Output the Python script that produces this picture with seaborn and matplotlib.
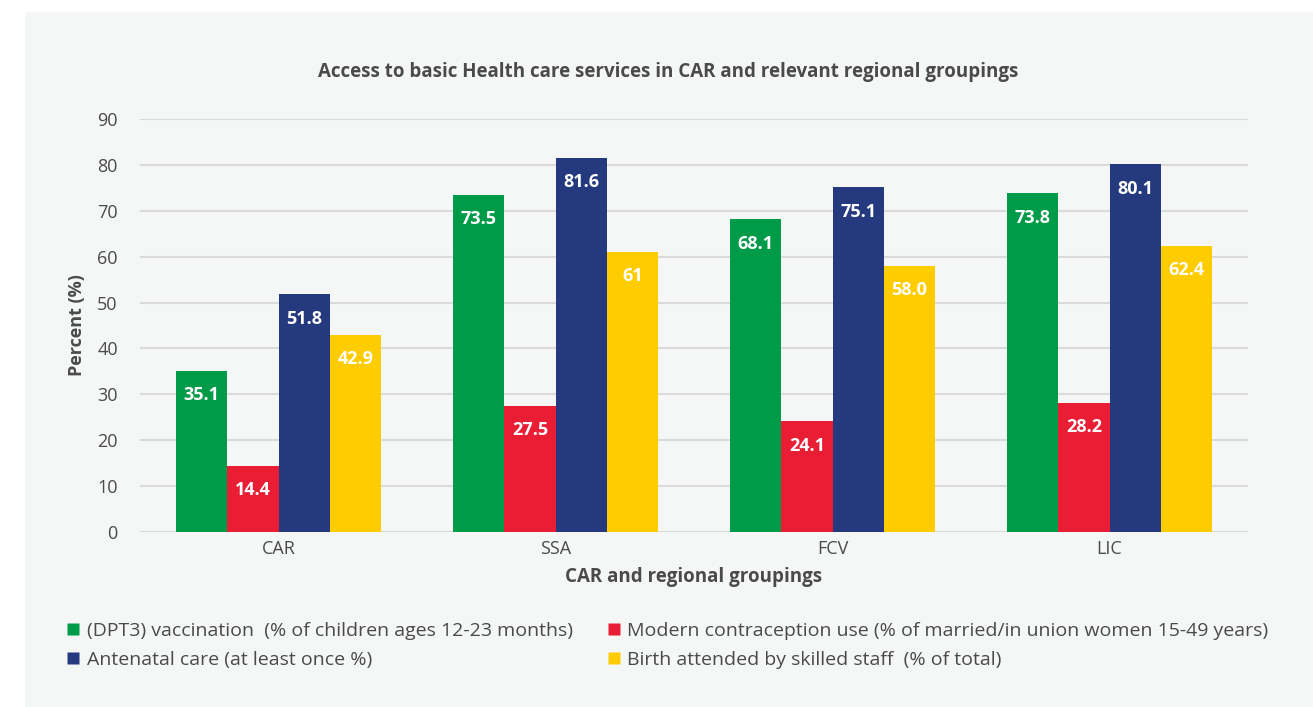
import pandas as pd
import matplotlib.pyplot as plt
import seaborn as sns
from matplotlib.patches import Rectangle
from matplotlib.lines import Line2D

# chart data
groups = ["CAR", "SSA", "FCV", "LIC"]
series = [
    "(DPT3) vaccination  (% of children ages 12-23 months)",
    "Modern contraception use (% of married/in union women 15-49 years)",
    "Antenatal care (at least once %)",
    "Birth attended by skilled staff  (% of total)",
]
dpt3 = [35.1, 73.5, 68.1, 73.8]
contraception = [14.4, 27.5, 24.1, 28.2]
antenatal = [51.8, 81.6, 75.1, 80.1]
birth_staff = [42.9, 61, 58.0, 62.4]
label_text = [
    ["35.1", "73.5", "68.1", "73.8"],
    ["14.4", "27.5", "24.1", "28.2"],
    ["51.8", "81.6", "75.1", "80.1"],
    ["42.9", "61", "58.0", "62.4"],
]
colors = ["#009B48", "#E91D33", "#253A7E", "#FFCC00"]

rows = []
for name, vals in zip(series, [dpt3, contraception, antenatal, birth_staff]):
    for g, v in zip(groups, vals):
        rows.append({"group": g, "series": name, "value": v})
df = pd.DataFrame(rows)

sns.set_style("white")
plt.rcParams["font.family"] = ["Open Sans", "DejaVu Sans"]
text_col = "#4a4a4a"

fig = plt.figure(figsize=(13.13, 7.07), dpi=100)
fig.patch.set_facecolor("white")
fig.patches.append(Rectangle((25 / 1313, 0), 1 - 25 / 1313, 1 - 12 / 707,
                             transform=fig.transFigure, facecolor="#F5F6F6",
                             edgecolor="none", zorder=-5))

ax = fig.add_axes([140 / 1313, 1 - 532 / 707, 1108 / 1313, 413 / 707])
ax.set_facecolor("none")

sns.barplot(data=df, x="group", y="value", hue="series", palette=colors,
            width=0.74, gap=0, saturation=1, linewidth=0, ax=ax,
            legend=False, zorder=3)

ax.set_ylim(0, 90)
ax.set_xlim(-0.5, 3.5)
ax.set_yticks(range(0, 91, 10))
ax.yaxis.grid(True, color="#DADADA", linewidth=1.5, zorder=0)
ax.set_axisbelow(True)
for s in ax.spines.values():
    s.set_visible(False)
ax.tick_params(axis="both", length=0, labelsize=13, colors=text_col)
ax.tick_params(axis="y", pad=16)
ax.tick_params(axis="x", pad=6)

for cont, labs in zip(ax.containers, label_text):
    ax.bar_label(cont, labels=labs, padding=-24, color="white",
                 fontsize=13, fontweight="bold")

ax.set_xlabel("CAR and regional groupings", fontsize=13.5, fontweight="bold",
              color=text_col, labelpad=6)
ax.set_ylabel("Percent (%)", fontsize=13, fontweight="bold", color=text_col,
              labelpad=8)

fig.text(668 / 1313, 1 - 72 / 707,
         "Access to basic Health care services in CAR and relevant regional groupings",
         ha="center", va="center", fontsize=13.5, fontweight="bold", color=text_col)

handles = [Line2D([], [], marker="s", linestyle="none", markersize=8,
                  markerfacecolor=c, markeredgecolor="none") for c in colors]
order = [0, 2, 1, 3]
fig.legend([handles[i] for i in order], [series[i] for i in order],
           loc="upper left", bbox_to_anchor=(46 / 1313, 1 - 604 / 707),
           ncol=2, frameon=False, fontsize=14, labelcolor=text_col,
           handletextpad=0.2, handlelength=1.0, columnspacing=1.6,
           labelspacing=0.6)

fig.savefig("out.png", dpi=100)
